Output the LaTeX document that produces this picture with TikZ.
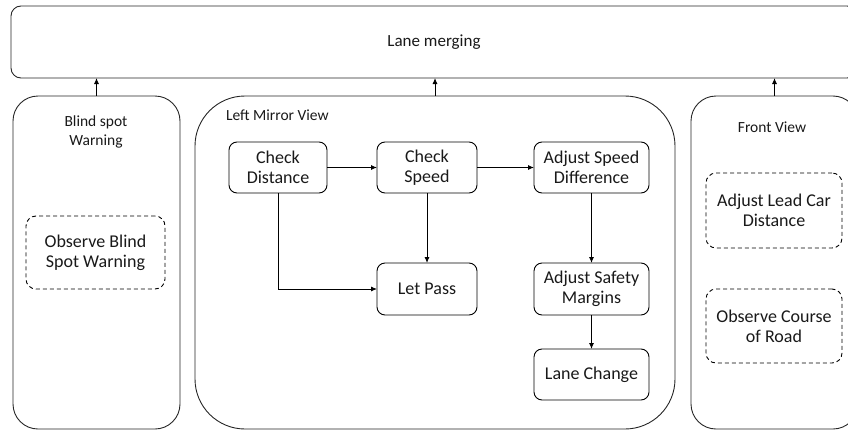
\documentclass[tikz,border=0pt]{standalone}
\usepackage{fontspec}
\setmainfont{Carlito}
\usetikzlibrary{arrows.meta}
\begin{document}
\begin{tikzpicture}[x=1pt,y=-1pt,
  every node/.style={inner sep=0pt, outer sep=0pt, align=center, text=black!90},
  lane/.style={draw=black!85, line width=0.9pt, rounded corners=25pt},
  stepbox/.style={draw=black, line width=0.9pt, rounded corners=8pt, font=\fontsize{18}{20}\selectfont},
  dashbox/.style={draw=black, line width=0.9pt, rounded corners=10pt, dash pattern=on 4pt off 3pt, font=\fontsize{18}{20}\selectfont},
  small/.style={font=\fontsize{15.5}{19}\selectfont},
  arr/.style={draw=black, line width=0.9pt, -{Latex[length=6pt,width=5pt]}}
]
\useasboundingbox (0,0) rectangle (848,431);
\clip (0,0) rectangle (848,431);

% top box
\node[lane, rounded corners=10pt, minimum width=846pt, minimum height=72pt, font=\fontsize{17}{20}\selectfont] (top) at (434,42) {Lane merging};

% lanes
\node[lane, minimum width=167pt, minimum height=333pt] (lbox) at (96.5,262.5) {};
\node[lane, rounded corners=50pt, minimum width=480pt, minimum height=333pt] (mbox) at (435,262.5) {};
\node[lane, minimum width=167pt, minimum height=333pt] (rbox) at (774.5,262.5) {};

\draw[arr] (lbox.north) -- (lbox.north |- top.south);
\draw[arr] (mbox.north) -- (mbox.north |- top.south);
\draw[arr] (rbox.north) -- (rbox.north |- top.south);

% lane titles
\node[small] (lt) at (96,132) {Blind spot\\Warning};
\node[small, anchor=west] (mt) at (226,115) {Left Mirror View};
\node[small] (rt) at (772,127) {Front View};

% dashed boxes
\node[dashbox, minimum width=139pt, minimum height=73pt] (obs) at (95.5,252.5) {Observe Blind\\Spot Warning};
\node[dashbox, minimum width=136pt, minimum height=75pt] (alc) at (774,210.5) {Adjust Lead Car\\Distance};
\node[dashbox, minimum width=136pt, minimum height=74pt] (ocr) at (774,326) {Observe Course\\of Road};

% steps
\node[stepbox, minimum width=98pt, minimum height=51pt] (cd) at (278,167.5) {Check\\Distance};
\node[stepbox, minimum width=100pt, minimum height=51pt] (cs) at (427,167.5) {Check\\Speed};
\node[stepbox, minimum width=115pt, minimum height=51pt] (asd) at (591.5,167.5) {Adjust Speed\\Difference};
\node[stepbox, minimum width=100pt, minimum height=52pt] (lp) at (427,289) {Let Pass};
\node[stepbox, minimum width=115pt, minimum height=52pt] (asm) at (591.5,289) {Adjust Safety\\Margins};
\node[stepbox, minimum width=115pt, minimum height=51pt] (lc) at (591.5,374.5) {Lane Change};

\draw[arr] (cd) -- (cs);
\draw[arr] (cs) -- (asd);
\draw[arr] (cs) -- (lp);
\draw[arr] (cd.south) |- (lp.west);
\draw[arr] (asd) -- (asm);
\draw[arr] (asm) -- (lc);
\end{tikzpicture}
\end{document}
